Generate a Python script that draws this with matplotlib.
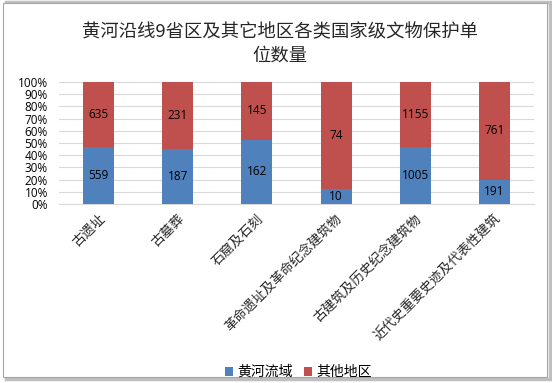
import numpy as np
import matplotlib
matplotlib.use('Agg')
from matplotlib import pyplot as plt
from matplotlib.patches import Rectangle

plt.rcParams['font.family'] = ['Noto Sans CJK SC', 'DejaVu Sans']

categories = ['古遗址', '古墓葬', '石窟及石刻', '革命遗址及革命纪念建筑物',
              '古建筑及历史纪念建筑物', '近代史重要史迹及代表性建筑']
yellow_river = [559, 187, 162, 10, 1005, 191]
others = [635, 231, 145, 74, 1155, 761]
series_names = ['黄河流域', '其他地区']

blue = '#4F81BD'
red = '#C0504D'

yr = np.array(yellow_river, dtype=float)
ot = np.array(others, dtype=float)
total = yr + ot
yr_pct = yr / total * 100
ot_pct = ot / total * 100

fig = plt.figure(figsize=(5.52, 3.83), dpi=100)

# chart border with slight shadow
fig.patches.append(Rectangle((6 / 552, 4 / 383), 544 / 552, 377 / 383,
                             transform=fig.transFigure, facecolor='none',
                             edgecolor='#BFBFBF', linewidth=2.5, zorder=-5))
fig.patches.append(Rectangle((3 / 552, 6 / 383), 544 / 552, 374 / 383,
                             transform=fig.transFigure, facecolor='white',
                             edgecolor='#A6A6A6', linewidth=0.8, zorder=-4))

ax = fig.add_axes([59 / 552, 1 - 204 / 383, (534 - 59) / 552, (204 - 82) / 383])
ax.set_facecolor('none')

x = np.arange(len(categories))
w = 0.39
b1 = ax.bar(x, yr_pct, w, color=blue, label=series_names[0], zorder=3)
b2 = ax.bar(x, ot_pct, w, bottom=yr_pct, color=red, label=series_names[1], zorder=3)

for i in range(len(categories)):
    ax.text(x[i], yr_pct[i] / 2, str(yellow_river[i]), ha='center', va='center',
            fontsize=8.5, family=['Open Sans', 'DejaVu Sans'], color='black', zorder=4)
    ax.text(x[i], yr_pct[i] + ot_pct[i] / 2, str(others[i]), ha='center', va='center',
            fontsize=8.5, family=['Open Sans', 'DejaVu Sans'], color='black', zorder=4)

ax.set_xlim(-0.5, len(categories) - 0.5)
ax.set_ylim(0, 100)
ax.set_yticks(np.arange(0, 101, 10))
ax.set_yticklabels([f'{v}%' for v in range(0, 101, 10)],
                   family=['Open Sans', 'DejaVu Sans'], fontsize=8.5)
ax.yaxis.grid(True, color='#D9D9D9', linewidth=0.8, zorder=0)
ax.set_axisbelow(True)
for s in ['top', 'right', 'left']:
    ax.spines[s].set_visible(False)
ax.spines['bottom'].set_color('#D9D9D9')
ax.tick_params(axis='both', length=0)
ax.tick_params(axis='y', pad=8)
ax.tick_params(axis='x', pad=6)
ax.set_xticks(x)
ax.set_xticklabels(categories, rotation=45, ha='right', rotation_mode='anchor',
                   fontsize=9.5, color='#262626')

fig.text(0.507, 1 - 32 / 383, '黄河沿线9省区及其它地区各类国家级文物保护单',
         ha='center', va='center', fontsize=13.2, color='#262626')
fig.text(0.507, 1 - 56 / 383, '位数量', ha='center', va='center',
         fontsize=13.2, color='#262626')

fig.legend(handles=[b1, b2], loc='center', bbox_to_anchor=(0.54, 1 - 372 / 383),
           ncol=2, frameon=False, fontsize=10, handlelength=0.6, handleheight=0.6,
           handletextpad=0.3, columnspacing=0.8)

fig.savefig('out.png', dpi=100)
